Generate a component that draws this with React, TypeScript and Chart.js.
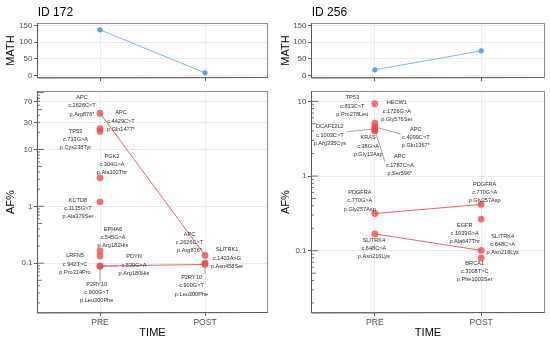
import React, { useEffect, useRef } from 'react';
import { Chart, registerables } from 'chart.js';

Chart.register(...registerables);

const FONT = '"Liberation Sans", Arial, Helvetica, sans-serif';

// ---------- shared ----------
const timeLabels = ['PRE', 'POST'];
const mathTicks = [0, 50, 100, 150];
const mathLimits = [0, 150];

// ---------- patient ID 172 ----------
const title172 = 'ID 172';
const math172 = [137, 8];
const genes172 = ['APC', 'APC', 'TP53', 'PGK2', 'KCTD8', 'EPHA6', 'LRFN5', 'PDYN', 'P2RY10', 'SLITRK1'];
const cdna172 = ['c.2626C>T', 'c.4429C>T', 'c.713G>A', 'c.304G>A', 'c.1135G>T', 'c.545G>A', 'c.942T>C', 'c.539G>A', 'c.900G>T', 'c.1403A>G'];
const prot172 = ['p.Arg876*', 'p.Gln1477*', 'p.Cys238Tyr', 'p.Ala102Thr', 'p.Ala379Ser', 'p.Arg182His', 'p.Pro314Pro', 'p.Arg180His', 'p.Leu300Phe', 'p.Asn458Ser'];
const pre172 = [43.3, 23.3, 20.7, 3.17, 1.2, 0.165, 0.134, 0.089, 0.089, null];
const post172 = [0.137, null, null, null, null, null, null, null, 0.095, 0.1];
const afTicks172 = [0.1, 1, 10, 30, 70];
const afTickLabels172 = ['0.1', '1', '10', '30', '70'];
const afLimits172 = [0.02, 70];

// ---------- patient ID 256 ----------
const title256 = 'ID 256';
const math256 = [17, 74];
const genes256 = ['TP53', 'HECW1', 'DCAF12L2', 'KRAS', 'APC', 'APC', 'PDGFRA', 'SLITRK4', 'EGFR', 'BRCA1'];
const cdna256 = ['c.833C>T', 'c.1726G>A', 'c.1003C>T', 'c.38G>A', 'c.4099C>T', 'c.1787C>A', 'c.770G>A', 'c.648C>A', 'c.1939G>A', 'c.3008T>C'];
const prot256 = ['p.Pro278Leu', 'p.Gly576Ser', 'p.Arg335Cys', 'p.Gly13Asp', 'p.Gln1367*', 'p.Ser596*', 'p.Gly257Asp', 'p.Asn216Lys', 'p.Ala647Thr', 'p.Phe1003Ser'];
const pre256 = [9.3, 5.1, 4.28, 4.02, 4.55, 4.15, 0.315, 0.168, null, null];
const post256 = [null, null, null, null, null, null, 0.417, 0.101, 0.265, 0.08];
const afTicks256 = [0.1, 1, 10];
const afTickLabels256 = ['0.1', '1', '10'];
const afLimits256 = [0.02, 10];

// label placement (repel result): [mutation index, time index, dx px, dy px, leader]
const labelLayout172 = [
  [0, 0, -18, -15.7, 0],
  [1, 0, 21, -15.8, 0],
  [2, 0, -24.5, -0.3, 0],
  [3, 0, 12, -21.7, 0],
  [4, 0, -22, -1.7, 0],
  [5, 0, 13, -21.7, 0],
  [6, 0, -25, 0, 0],
  [7, 0, 34, -9.3, 1],
  [8, 0, -3.3, 18, 1],
  [0, 1, -15.5, -21.3, 0],
  [9, 1, 22, -13.3, 0],
  [8, 1, -13.5, 13.2, 1],
];
const labelLayout256 = [
  [0, 0, -22.5, -6, 0],
  [1, 0, 22, -20.4, 0],
  [2, 0, -45, -2, 1],
  [3, 0, -6.7, 7, 1],
  [4, 0, 41, 2.3, 1],
  [5, 0, 25, 27, 1],
  [6, 0, -15, -21, 0],
  [7, 0, -1, 6.3, 0],
  [6, 1, 3.5, -20.3, 0],
  [8, 1, -16.5, 6, 0],
  [7, 1, 21.5, -14.3, 0],
  [9, 1, -6.5, 5, 0],
];

const POINT_RED = 'rgba(240,72,72,0.78)';
const LINE_RED = 'rgba(240,80,80,0.9)';
const BLUE = '#619CFF';
const LABEL_FS = 5.6;
const LINE_GAP = 8.3;
const PR = 3.4;

const panels = [
  {
    left: 0, yAxisW: 37, padRight: 7,
    title: title172, math: math172, genes: genes172, cdna: cdna172, prot: prot172,
    pre: pre172, post: post172, ticks: afTicks172, tickLabels: afTickLabels172,
    limits: afLimits172, layout: labelLayout172,
  },
  {
    left: 275, yAxisW: 36, padRight: 5,
    title: title256, math: math256, genes: genes256, cdna: cdna256, prot: prot256,
    pre: pre256, post: post256, ticks: afTicks256, tickLabels: afTickLabels256,
    limits: afLimits256, layout: labelLayout256,
  },
];

const borderPlugin = {
  id: 'panelBorder',
  afterDraw(chart: any) {
    const { ctx, chartArea: a } = chart;
    ctx.save();
    ctx.strokeStyle = '#8a8a8a';
    ctx.lineWidth = 1;
    ctx.strokeRect(Math.round(a.left) + 0.5, Math.round(a.top) + 0.5, Math.round(a.right - a.left) - 1, Math.round(a.bottom - a.top) - 1);
    ctx.strokeStyle = '#5a5a5a';
    ctx.beginPath();
    ctx.moveTo(Math.round(a.left) + 0.5, Math.round(a.top));
    ctx.lineTo(Math.round(a.left) + 0.5, Math.round(a.bottom));
    ctx.lineTo(Math.round(a.right), Math.round(a.bottom) - 0.5);
    ctx.stroke();
    ctx.restore();
  },
};

function xScale(height: number, showLabels: boolean, showTitle: boolean) {
  return {
    type: 'linear',
    min: -0.6,
    max: 1.6,
    afterBuildTicks: (s: any) => { s.ticks = timeLabels.map((_, i) => ({ value: i })); },
    afterFit: (s: any) => { s.height = height; },
    ticks: {
      autoSkip: false,
      maxRotation: 0,
      padding: 1.5,
      color: '#4d4d4d',
      font: { size: 8.5, family: FONT },
      callback: (v: any) => (showLabels ? timeLabels[v] ?? '' : ''),
    },
    grid: { color: '#ebebeb', lineWidth: 1, tickColor: '#333', tickLength: 3, tickWidth: 0.8 },
    border: { display: false },
    title: {
      display: showTitle,
      text: 'TIME',
      color: '#000',
      font: { size: 11, family: FONT },
      padding: { top: 0, bottom: 2 },
    },
  };
}

function mathConfig(p: any) {
  const ex = (mathLimits[1] - mathLimits[0]) * 0.05;
  return {
    type: 'scatter',
    data: {
      datasets: [{
        data: p.math.map((v: number, i: number) => ({ x: i, y: v })),
        showLine: true,
        borderColor: '#7fb2f8',
        borderWidth: 1,
        pointRadius: 2.6,
        pointBorderWidth: 0,
        pointBackgroundColor: BLUE,
      }],
    },
    options: {
      animation: false,
      responsive: false,
      events: [],
      layout: { padding: { top: 23, right: p.padRight, left: 0, bottom: 0 } },
      plugins: { legend: { display: false }, tooltip: { enabled: false } },
      scales: {
        x: xScale(7, false, false),
        y: {
          type: 'linear',
          min: mathLimits[0] - ex,
          max: mathLimits[1] + ex,
          afterBuildTicks: (s: any) => { s.ticks = mathTicks.map((v) => ({ value: v })); },
          afterFit: (s: any) => { s.width = p.yAxisW; },
          ticks: { padding: 1.5, color: '#4d4d4d', font: { size: 8, family: FONT } },
          grid: { color: '#ebebeb', lineWidth: 1, tickColor: '#333', tickLength: 3, tickWidth: 0.8 },
          border: { display: false },
          title: { display: true, text: 'MATH', color: '#000', font: { size: 11, family: FONT }, padding: { top: 4, bottom: 0 } },
        },
      },
    },
    plugins: [
      borderPlugin,
      {
        id: 'panelTitle',
        afterDraw(chart: any) {
          const { ctx, chartArea: a } = chart;
          ctx.save();
          ctx.fillStyle = '#000';
          ctx.font = `12px ${FONT}`;
          ctx.textAlign = 'left';
          ctx.textBaseline = 'alphabetic';
          ctx.fillText(p.title, a.left + 0.7, 15.5);
          ctx.restore();
        },
      },
    ],
  };
}

function afConfig(p: any) {
  const lo = Math.log10(p.limits[0]);
  const hi = Math.log10(p.limits[1]);
  const ex = (hi - lo) * 0.05;
  const datasets = p.genes.map((g: string, i: number) => {
    const pts: any[] = [];
    if (p.pre[i] != null) pts.push({ x: 0, y: p.pre[i] });
    if (p.post[i] != null) pts.push({ x: 1, y: p.post[i] });
    return {
      label: `${g} ${p.cdna[i]}`,
      data: pts,
      showLine: true,
      borderColor: LINE_RED,
      borderWidth: 1,
      pointRadius: PR,
      pointBorderWidth: 0,
      pointBackgroundColor: POINT_RED,
    };
  });

  const logTicks = {
    id: 'logTicks',
    afterDatasetsDraw(chart: any) {
      const { ctx, chartArea: a } = chart;
      const ys = chart.scales.y;
      ctx.save();
      ctx.strokeStyle = '#333';
      ctx.lineWidth = 0.7;
      for (let d = Math.floor(lo - ex) - 1; d <= Math.ceil(hi + ex); d++) {
        for (let m = 1; m <= 9; m++) {
          const v = m * Math.pow(10, d);
          const py = ys.getPixelForValue(v);
          if (py < a.top || py > a.bottom) continue;
          const len = m === 1 ? 7 : m === 5 ? 5 : 3;
          ctx.beginPath();
          ctx.moveTo(a.left, py);
          ctx.lineTo(a.left + len, py);
          ctx.stroke();
        }
      }
      ctx.restore();
    },
  };

  const labels = {
    id: 'repelLabels',
    afterDatasetsDraw(chart: any) {
      const { ctx } = chart;
      const xs = chart.scales.x;
      const ys = chart.scales.y;
      ctx.save();
      ctx.font = `${LABEL_FS}px ${FONT}`;
      ctx.textAlign = 'center';
      ctx.textBaseline = 'middle';
      for (const [mi, ti, dx, dy, leader] of p.layout) {
        const v = ti === 0 ? p.pre[mi] : p.post[mi];
        const px = xs.getPixelForValue(ti);
        const py = ys.getPixelForValue(v);
        const lines = [p.genes[mi], p.cdna[mi], p.prot[mi]];
        const cx = px + dx;
        const y0 = py + dy;
        if (leader) {
          const w = Math.max(...lines.map((l) => ctx.measureText(l).width));
          const bx0 = cx - w / 2 - 1;
          const bx1 = cx + w / 2 + 1;
          const by0 = y0 - LABEL_FS * 0.6;
          const by1 = y0 + 2 * LINE_GAP + LABEL_FS * 0.6;
          const h = by1 - by0;
          const nx = Math.min(Math.max(px, bx0), bx1);
          let ny = Math.min(Math.max(py, by0), by1);
          if (nx === bx0 || nx === bx1) {
            ny = Math.min(Math.max(py, by0 + h * 0.35), by1 - h * 0.35);
          }
          const d = Math.hypot(nx - px, ny - py);
          if (d > PR) {
            ctx.strokeStyle = '#666';
            ctx.lineWidth = 0.6;
            ctx.beginPath();
            ctx.moveTo(px + ((nx - px) / d) * PR, py + ((ny - py) / d) * PR);
            ctx.lineTo(nx, ny);
            ctx.stroke();
          }
        }
        ctx.fillStyle = '#2b2b2b';
        lines.forEach((l, k) => ctx.fillText(l, cx, y0 + k * LINE_GAP));
      }
      ctx.restore();
    },
  };

  return {
    type: 'scatter',
    data: { datasets },
    options: {
      animation: false,
      responsive: false,
      events: [],
      layout: { padding: { top: 6, right: p.padRight, left: 0, bottom: 0 } },
      plugins: { legend: { display: false }, tooltip: { enabled: false } },
      scales: {
        x: xScale(29, true, true),
        y: {
          type: 'logarithmic',
          min: Math.pow(10, lo - ex),
          max: Math.pow(10, hi + ex),
          afterBuildTicks: (s: any) => { s.ticks = p.ticks.map((v: number) => ({ value: v })); },
          afterFit: (s: any) => { s.width = p.yAxisW; },
          ticks: {
            padding: 1.5,
            color: '#4d4d4d',
            font: { size: 8, family: FONT },
            callback: (_v: any, i: number) => p.tickLabels[i],
          },
          grid: { color: '#ebebeb', lineWidth: 1, tickColor: '#333', tickLength: 3, tickWidth: 0.8 },
          border: { display: false },
          title: { display: true, text: 'AF%', color: '#000', font: { size: 11, family: FONT }, padding: { top: 4, bottom: 0 } },
        },
      },
    },
    plugins: [logTicks, labels, borderPlugin],
  };
}

function ChartCanvas({ width, height, left, top, config }: any) {
  const ref = useRef<HTMLCanvasElement>(null);
  useEffect(() => {
    const chart = new Chart(ref.current as HTMLCanvasElement, config() as any);
    return () => chart.destroy();
  }, []);
  return (
    <canvas
      ref={ref}
      width={width}
      height={height}
      style={{ position: 'absolute', left, top, width, height }}
    />
  );
}

export default function App() {
  return (
    <div style={{ position: 'fixed', left: 0, top: 0, width: 550, height: 342, background: '#fff', overflow: 'hidden' }}>
      {panels.map((p, i) => (
        <React.Fragment key={i}>
          <ChartCanvas left={p.left} top={0} width={275} height={85} config={() => mathConfig(p)} />
          <ChartCanvas left={p.left} top={85} width={275} height={257} config={() => afConfig(p)} />
        </React.Fragment>
      ))}
    </div>
  );
}
